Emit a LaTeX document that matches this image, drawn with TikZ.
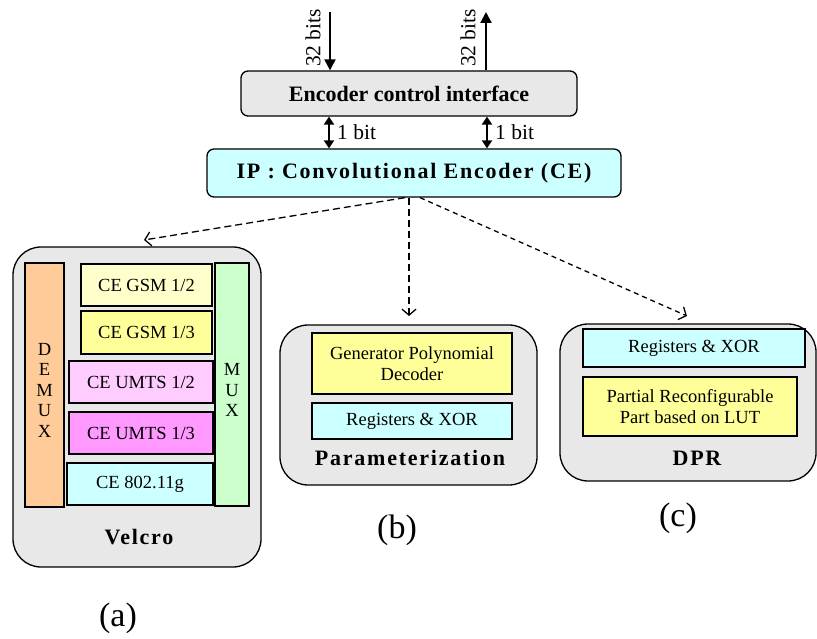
\documentclass[tikz,border=0pt]{standalone}
\usepackage{fontspec}
\setmainfont{Liberation Serif}
\newfontfamily\spacedbf[LetterSpace=8]{Liberation Serif}
\usetikzlibrary{arrows.meta}
\definecolor{gry}{HTML}{E8E8E8}
\definecolor{cyn}{HTML}{CCFFFF}
\definecolor{yelA}{HTML}{FFFFCC}
\definecolor{yelB}{HTML}{FFFF99}
\definecolor{pnkA}{HTML}{FFCCFF}
\definecolor{pnkB}{HTML}{FF99FF}
\definecolor{orng}{HTML}{FFCC99}
\definecolor{grn}{HTML}{CCFFCC}
\newcommand\txtA{\fontsize{18.5}{20.5}\selectfont}
\newcommand\txtB{\fontsize{21.5}{24}\selectfont}
\newcommand\txtBold{\bfseries\fontsize{22}{26}\selectfont}
\newcommand\txtSp{\spacedbf\bfseries\fontsize{22}{26}\selectfont}
\newcommand\txtCap{\fontsize{34}{38}\selectfont}
\begin{document}
\begin{tikzpicture}[x=1pt,y=-1pt,
  bx/.style={draw, line width=1.3pt, inner sep=0pt, font=\txtA, align=center},
  outerbox/.style={draw, line width=1.3pt, fill=gry, rounded corners=28pt, inner sep=0pt},
  topbox/.style={draw, line width=1.3pt, rounded corners=7pt, inner sep=0pt},
  solidarrow/.style={line width=2.2pt, -{Triangle[length=11pt,width=11pt]}},
  biarrow/.style={line width=2.2pt, {Triangle[length=8pt,width=10pt]}-{Triangle[length=8pt,width=10pt]}},
  dasharrow/.style={line width=1.3pt, dash pattern=on 7pt off 4pt, -{Straight Barb[length=6pt,width=14pt,line width=1.3pt]}},
]
\useasboundingbox (0,0) rectangle (817,639);

% top boxes
\node[topbox, fill=gry, minimum width=336pt, minimum height=45pt, font=\txtBold] (eci) at (409,93.5) {Encoder control interface};
\node[topbox, fill=cyn, minimum width=414pt, minimum height=48pt, font=\txtSp] (ce) at (414,173) {IP : Convolutional Encoder (CE)};

% 32 bits arrows
\coordinate (in1) at (330,12);
\coordinate (out1) at (486,12);
\draw[solidarrow] (in1) -- (in1 |- eci.north);
\draw[solidarrow] (out1 |- eci.north) -- (out1);
\node[rotate=90, font=\txtB, inner sep=0pt] (lin) at (313,38) {32 bits};
\node[rotate=90, font=\txtB, inner sep=0pt] (lout) at (468,38) {32 bits};

% 1 bit arrows
\coordinate (b1) at (329,0);
\coordinate (b2) at (487,0);
\draw[biarrow] (b1 |- eci.south) -- (b1 |- ce.north);
\draw[biarrow] (b2 |- eci.south) -- (b2 |- ce.north);
\node[font=\txtB, anchor=west, inner sep=0pt] (l1) at (337,132) {1 bit};
\node[font=\txtB, anchor=west, inner sep=0pt] (l2) at (495,132) {1 bit};

% Velcro
\node[outerbox, minimum width=248pt, minimum height=320pt] (velcro) at (137,407) {};
\node[bx, fill=orng, minimum width=39pt, minimum height=244pt] (demux) at (44.5,385) {};
\node[font=\txtA, align=center, inner sep=0pt] (demuxt) at (44.5,390) {\fontsize{18.5}{21.5}\selectfont D\\E\\M\\U\\X};
\node[bx, fill=grn, minimum width=34pt, minimum height=243pt] (mux) at (232,384.5) {};
\node[font=\txtA, align=center, inner sep=0pt] (muxt) at (232,390) {\fontsize{18.5}{21.5}\selectfont M\\U\\X};
\node[bx, fill=yelA, minimum width=131pt, minimum height=42pt] (g12) at (146.5,285) {CE GSM 1/2};
\node[bx, fill=yelB, minimum width=131pt, minimum height=43pt] (g13) at (146.5,332.5) {CE GSM 1/3};
\node[bx, fill=pnkA, minimum width=144pt, minimum height=42pt] (u12) at (141,382) {CE UMTS 1/2};
\node[bx, fill=pnkB, minimum width=144pt, minimum height=42pt] (u13) at (141,433) {CE UMTS 1/3};
\node[bx, fill=cyn, minimum width=146pt, minimum height=42pt] (w11) at (140,484) {CE 802.11g};
\node[font=\txtSp, inner sep=0pt] (velcrot) at (139,537) {Velcro};

% Parameterization
\node[outerbox, minimum width=257pt, minimum height=160pt] (param) at (408.5,405) {};
\node[bx, fill=yelB, minimum width=200pt, minimum height=61pt] (gen) at (412,363.5) {Generator Polynomial\\Decoder};
\node[bx, fill=cyn, minimum width=200pt, minimum height=36pt] (regb) at (412,421) {Registers \& XOR};
\node[font=\txtSp, inner sep=0pt] (paramt) at (410,458) {Parameterization};

% DPR
\node[outerbox, minimum width=256pt, minimum height=157pt] (dpr) at (688,402.5) {};
\node[bx, fill=cyn, minimum width=222pt, minimum height=38pt] (regc) at (694,348) {Registers \& XOR};
\node[bx, fill=yelB, minimum width=214pt, minimum height=59pt] (part) at (690,406.5) {Partial Reconfigurable\\Part based on LUT};
\node[font=\txtSp, inner sep=0pt] (dprt) at (697,458) {DPR};

% dashed arrows
\coordinate (ta) at (144,240);
\coordinate (tb) at (409,316);
\coordinate (tc) at (687,316);
\draw[dasharrow] ([xshift=-9pt]ce.south) -- (ta);
\draw[dasharrow] (tb |- ce.south) -- (tb);
\draw[dasharrow, dash pattern=on 5pt off 4pt] ([xshift=6pt]ce.south) -- (tc);

% captions
\node[font=\txtCap, inner sep=0pt] (ca) at (118,618) {(a)};
\node[font=\txtCap, inner sep=0pt] (cb) at (397,530) {(b)};
\node[font=\txtCap, inner sep=0pt] (cc) at (678,518) {(c)};
\end{tikzpicture}
\end{document}
